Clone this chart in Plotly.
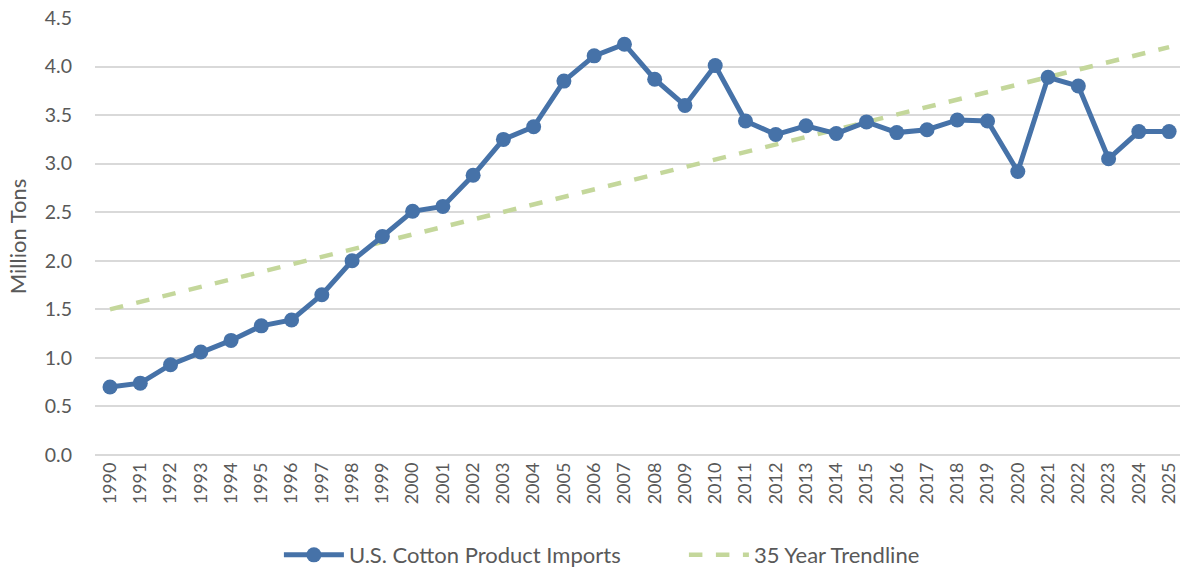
import plotly.graph_objects as go

years = list(range(1990, 2026))
imports = [0.70, 0.74, 0.93, 1.06, 1.18, 1.33, 1.39, 1.65, 2.00, 2.25,
           2.51, 2.56, 2.88, 3.25, 3.38, 3.85, 4.11, 4.23, 3.87, 3.60,
           4.01, 3.44, 3.30, 3.39, 3.31, 3.43, 3.32, 3.35, 3.45, 3.44,
           2.92, 3.89, 3.80, 3.05, 3.33, 3.33]
trend_years = [1990, 2025]
trend_values = [1.50, 4.20]
y_ticks = [0.0, 0.5, 1.0, 1.5, 2.0, 2.5, 3.0, 3.5, 4.0, 4.5]

BLUE = "#4672A8"
GREEN = "#C4D79B"
FONT = "Lato"
GREY_TXT = "#595959"

fig = go.Figure()
fig.add_trace(go.Scatter(
    x=trend_years, y=trend_values, mode="lines", name="35 Year Trendline",
    line=dict(color=GREEN, width=4.5, dash="dash"),
))
fig.add_trace(go.Scatter(
    x=years, y=imports, mode="lines+markers", name="U.S. Cotton Product Imports",
    line=dict(color=BLUE, width=5), marker=dict(color=BLUE, size=15),
))

fig.update_layout(
    width=1180, height=569,
    margin=dict(l=95, r=0, t=18, b=114, autoexpand=False),
    paper_bgcolor="white", plot_bgcolor="white",
    font=dict(family=FONT, size=18, color=GREY_TXT),
    showlegend=True,
    legend=dict(orientation="h", x=0.1695, xanchor="left", y=-0.229, yanchor="middle",
                font=dict(family=FONT, size=22, color=GREY_TXT), traceorder="reversed",
                itemwidth=60, entrywidth=330, entrywidthmode="pixels"),
    xaxis=dict(
        range=[1989.504, 2025.36], tickmode="array", tickvals=years,
        ticktext=[str(y) for y in years], tickangle=-90, automargin=False,
        showgrid=False, zeroline=False, showline=False, ticks="",
        ticklabeloverflow="allow", ticklabelstandoff=3,
        tickfont=dict(family=FONT, size=18, color=GREY_TXT),
    ),
    yaxis=dict(
        range=[0, 4.5], tickmode="array", tickvals=y_ticks,
        ticktext=[f"{v:.1f}" for v in y_ticks], automargin=False,
        showgrid=True, gridcolor="#D9D9D9", gridwidth=1.5,
        zeroline=True, zerolinecolor="#D9D9D9", zerolinewidth=1.5,
        showline=False, ticks="", ticklabelstandoff=22,
        ticklabeloverflow="allow",
        tickfont=dict(family=FONT, size=19.5, color=GREY_TXT),
        title=dict(text="Million Tons", font=dict(family=FONT, size=22, color=GREY_TXT), standoff=12),
    ),
)

# remove the page's default 8px body margin so the figure fills the window exactly
fig.write_html("out.html", config={"displayModeBar": False},
               post_script="document.body.style.margin='0';document.body.style.overflow='hidden';")
